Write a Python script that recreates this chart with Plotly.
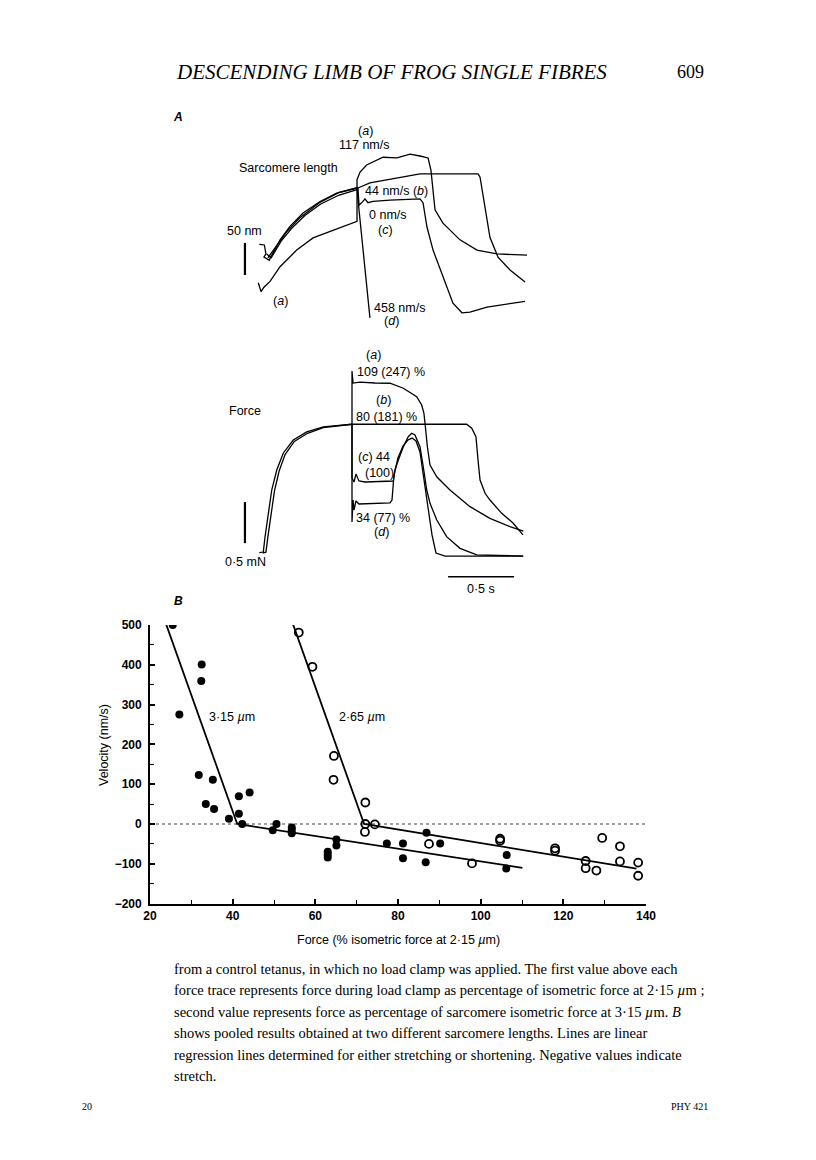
import plotly.graph_objects as go

# page geometry: the browser body has an 8px margin, so the figure is 16px smaller than the page
PAGE_W, PAGE_H = 816, 1160
OFF = 8
W, H = PAGE_W - 2 * OFF, PAGE_H - 2 * OFF
SANS = "Liberation Sans, Arial, sans-serif"
SERIF = "Liberation Serif, Times New Roman, serif"

def fx(px):
    return (px - OFF) / W

def fy(py):
    return 1 - (py - OFF) / H

# ---------------- Panel B data ----------------
f315_x = [25.5, 32.5, 32.4, 27.1, 31.8, 35.2, 33.5, 35.5, 39.1, 41.5, 44.1, 41.5, 42.3,
          49.7, 50.6, 54.3, 54.3, 54.3, 63.0, 63.0, 63.0, 65.1, 65.1, 77.3, 81.2, 81.2,
          86.9, 86.7, 90.2, 106.3, 106.2]
f315_y = [500, 401, 359, 275, 123, 111, 50, 38, 13, 70, 79, 26, 0,
          -16, 0, -9, -15, -23, -70, -77, -84, -39, -54, -49, -49, -86,
          -22, -96, -49, -78, -112]
o265_x = [56.0, 59.3, 64.5, 64.4, 72.1, 72.1, 72.0, 74.4, 87.5, 97.9, 104.7, 104.7,
          118.0, 118.0, 125.4, 125.4, 128.0, 129.4, 133.7, 133.7, 138.1, 138.1]
o265_y = [481, 395, 171, 111, 54, 0, -20, -1, -50, -99, -37, -42,
          -61, -67, -93, -111, -117, -35, -56, -94, -97, -130]
reg315_x = [23.9, 41.1, 110.1]
reg315_y = [502, 0, -110]
reg265_x = [54.6, 71.8, 137.7]
reg265_y = [502, 0, -112]
zero_x = [20, 141]
zero_y = [0, 0]
xticks = [20, 40, 60, 80, 100, 120, 140]
yticks = [-200, -100, 0, 100, 200, 300, 400, 500]

# ---------------- Panel A data (time in s, sarcomere length in nm, force in mN) ----------------
sl_bundle1_t = [-0.005, 0.033, 0.045, 0.03, 0.07, 0.076, 0.152, 0.227, 0.326, 0.455, 0.581, 0.742]
sl_bundle1_L = [87, 86, 72, 67, 62, 65, 94, 115, 136, 154, 167, 175]
sl_bundle2_t = [0.05, 0.085, 0.16, 0.24, 0.34, 0.46, 0.6, 0.742]
sl_bundle2_L = [72, 66, 92, 112, 132, 150, 164, 173]
sl_bundle3_t = [0.06, 0.12, 0.2, 0.3, 0.45, 0.6, 0.742]
sl_bundle3_L = [66, 84, 106, 128, 152, 168, 176]
sl_a_t = [-0.013, 0.008, 0.03, 0.076, 0.152, 0.278, 0.402, 0.530, 0.644, 0.720, 0.735, 0.735,
          0.758, 0.808, 0.932, 1.038, 1.136, 1.212, 1.273, 1.295, 1.326, 1.386, 1.515, 1.644,
          1.795, 2.023]
sl_a_L = [27, 13, 20, 29, 52, 78, 97, 107, 117, 122, 123, 188,
          200, 211, 223, 222, 228, 225, 222, 203, 141, 120, 94, 78,
          72, 70]
sl_b_t = [0.742, 0.833, 1.212, 1.652, 1.667, 1.705, 1.742, 1.803, 1.894, 2.008]
sl_b_L = [175, 183, 197, 197, 192, 141, 98, 67, 47, 28]
sl_c_t = [0.742, 0.75, 0.780, 0.795, 0.818, 0.856, 0.985, 1.212, 1.235, 1.265, 1.311, 1.386,
          1.462, 1.530, 1.591, 1.720, 1.894, 2.008]
sl_c_L = [175, 148, 154, 158, 152, 154, 156, 158, 152, 114, 78, 36,
          -5, -20, -19, -11, -6, -2]
sl_d_t = [0.735, 0.750, 0.833]
sl_d_L = [175, 141, -28]

fr_rise1_t = [-0.005, 0.025, 0.038, 0.063, 0.089, 0.127, 0.177, 0.252, 0.354, 0.48, 0.697]
fr_rise1_F = [0.004, 0.012, 0.195, 0.488, 0.768, 1.012, 1.22, 1.378, 1.476, 1.537, 1.57]
fr_rise2_t = [0.02, 0.045, 0.06, 0.085, 0.11, 0.145, 0.19, 0.26, 0.36, 0.48, 0.697]
fr_rise2_F = [0.0, 0.01, 0.2, 0.49, 0.76, 1.0, 1.2, 1.36, 1.46, 1.53, 1.57]
fr_a_t = [0.697, 0.697, 0.705, 0.758, 0.871, 0.985, 1.086, 1.187, 1.225, 1.242, 1.25, 1.268,
          1.288, 1.339, 1.439, 1.591, 1.742, 1.894, 1.995]
fr_a_F = [1.57, 2.22, 2.073, 2.085, 2.073, 2.07, 2.009, 1.906, 1.805, 1.704, 1.582, 1.296,
          1.073, 0.93, 0.768, 0.565, 0.423, 0.321, 0.268]
fr_b_t = [0.697, 1.566, 1.604, 1.636, 1.654, 1.667, 1.705, 1.742, 1.831, 1.917, 1.992]
fr_b_F = [1.57, 1.57, 1.521, 1.418, 1.094, 0.89, 0.728, 0.646, 0.484, 0.366, 0.22]
fr_c_t = [0.697, 0.697, 0.712, 0.727, 0.750, 0.795, 1.010, 1.023, 1.048, 1.086, 1.123, 1.149,
          1.174, 1.212, 1.237, 1.263, 1.288, 1.339, 1.414, 1.515, 1.642, 1.995]
fr_c_F = [1.57, 0.915, 0.866, 0.963, 0.878, 0.866, 0.878, 1.012, 1.134, 1.296, 1.418, 1.46,
          1.439, 1.296, 1.052, 0.768, 0.606, 0.402, 0.199, 0.057, -0.024, -0.037]
fr_d_t = [0.697, 0.697, 0.705, 0.712, 0.727, 0.750, 0.985, 1.0, 1.015, 1.045, 1.083, 1.121,
          1.152, 1.182, 1.212, 1.242, 1.273, 1.303, 1.333, 1.402, 1.992]
fr_d_F = [1.57, 0.378, 0.646, 0.524, 0.634, 0.598, 0.61, 0.646, 0.951, 1.159, 1.305, 1.378,
          1.402, 1.366, 1.232, 0.89, 0.524, 0.22, 0.0, -0.037, -0.037]

# scale bars (physical units)
bar_nm_t, bar_nm_L = -0.114, [39, 89]
bar_mN_t, bar_mN_F = -0.114, [0.12, 0.62]
bar_s_t, bar_s_F = [1.425, 1.925], -0.289

# ---------------- figure ----------------
fig = go.Figure()

def line(x, y, xa, ya, width=1.3, color="black", dash=None):
    fig.add_trace(go.Scatter(x=x, y=y, xaxis=xa, yaxis=ya, mode="lines",
                             line=dict(color=color, width=width, dash=dash),
                             hoverinfo="skip", showlegend=False))

# panel B
line(zero_x, zero_y, "x", "y", width=1.1, color="#444444", dash="dot")
line(reg315_x, reg315_y, "x", "y", width=1.8)
line(reg265_x, reg265_y, "x", "y", width=1.8)
fig.add_trace(go.Scatter(x=f315_x, y=f315_y, mode="markers", xaxis="x", yaxis="y",
                         marker=dict(symbol="circle", size=8, color="black"),
                         name="3·15 µm", showlegend=False))
fig.add_trace(go.Scatter(x=o265_x, y=o265_y, mode="markers", xaxis="x", yaxis="y",
                         marker=dict(symbol="circle-open", size=8, color="black",
                                     line=dict(width=1.8, color="black")),
                         name="2·65 µm", showlegend=False))

# panel A sarcomere
for tt, LL in [(sl_bundle1_t, sl_bundle1_L), (sl_bundle2_t, sl_bundle2_L),
               (sl_bundle3_t, sl_bundle3_L), (sl_a_t, sl_a_L), (sl_b_t, sl_b_L),
               (sl_c_t, sl_c_L), (sl_d_t, sl_d_L)]:
    line(tt, LL, "x2", "y2")
# panel A force
for tt, FF in [(fr_rise1_t, fr_rise1_F), (fr_rise2_t, fr_rise2_F), (fr_a_t, fr_a_F),
               (fr_b_t, fr_b_F), (fr_c_t, fr_c_F), (fr_d_t, fr_d_F)]:
    line(tt, FF, "x3", "y3")

# scale bars
line([bar_nm_t, bar_nm_t], bar_nm_L, "x2", "y2", width=2.2)
line([bar_mN_t, bar_mN_t], bar_mN_F, "x3", "y3", width=2.2)
line(bar_s_t, [bar_s_F, bar_s_F], "x3", "y3", width=1.6)

tickfont = dict(family=SANS, size=12, color="black", weight="bold")
fig.update_layout(
    width=W, height=H, autosize=False,
    margin=dict(l=0, r=0, t=0, b=0, autoexpand=False),
    paper_bgcolor="white", plot_bgcolor="rgba(0,0,0,0)", showlegend=False,
    xaxis=dict(domain=[fx(150), fx(646)], range=[20, 140], anchor="y", automargin=False,
               tickvals=xticks, ticks="inside", ticklen=5, tickwidth=1.5, tickcolor="black",
               minor=dict(dtick=10, tick0=20, ticks="inside", ticklen=4, tickwidth=1.3,
                          tickcolor="black", showgrid=False),
               showline=True, linecolor="black", linewidth=1.8, showgrid=False,
               zeroline=False, tickfont=tickfont, fixedrange=True),
    yaxis=dict(domain=[fy(903.6), fy(625)], range=[-200, 500], anchor="x", automargin=False,
               tickvals=yticks, ticks="inside", ticklen=5, tickwidth=1.5, tickcolor="black",
               minor=dict(dtick=50, tick0=0, ticks="inside", ticklen=4, tickwidth=1.3,
                          tickcolor="black", showgrid=False),
               showline=True, linecolor="black", linewidth=1.8, showgrid=False,
               zeroline=False, tickfont=tickfont, ticklabelstandoff=4, fixedrange=True),
    xaxis2=dict(domain=[fx(200), fx(560)], range=[-0.4545, 2.2727], anchor="y2", visible=False),
    yaxis2=dict(domain=[fy(330), fy(120)], range=[-46.875, 281.25], anchor="x2", visible=False),
    xaxis3=dict(domain=[fx(200), fx(560)], range=[-0.4545, 2.2727], anchor="y3", visible=False),
    yaxis3=dict(domain=[fy(590), fy(340)], range=[-0.4512, 2.5976], anchor="x3", visible=False),
)

anns = []
def ann(text, px, py, size=12.5, xanchor="center", family=SANS, color="black", angle=0, weight="normal"):
    anns.append(dict(text=text, x=fx(px), y=fy(py), xref="paper", yref="paper",
                     xanchor=xanchor, yanchor="middle", showarrow=False, textangle=angle,
                     font=dict(size=size, family=family, color=color, weight=weight)))

# page header
ann("<i>DESCENDING LIMB OF FROG SINGLE FIBRES</i>", 391, 72, size=21, family=SERIF)
ann("609", 690, 72, size=18, family=SERIF)
ann("<i><b>A</b></i>", 178, 117, size=12)
ann("<i><b>B</b></i>", 178, 601, size=12)

# panel A sarcomere labels
ann("(<i>a</i>)", 365, 131)
ann("117 nm/s", 364, 145)
ann("Sarcomere length", 288, 168)
ann("44 nm/s (<i>b</i>)", 363, 191, xanchor="left")
ann("0 nm/s", 367, 215, xanchor="left")
ann("(<i>c</i>)", 385, 230)
ann("50 nm", 244, 231)
ann("(<i>a</i>)", 271, 301, xanchor="left")
ann("458 nm/s", 372, 308, xanchor="left")
ann("(<i>d</i>)", 391, 321)
# panel A force labels
ann("(<i>a</i>)", 373, 355)
ann("109 (247) %", 355, 372, xanchor="left")
ann("(<i>b</i>)", 383, 400)
ann("80 (181) %", 354, 417, xanchor="left")
ann("Force", 245, 411)
ann("(<i>c</i>) 44", 356, 457, xanchor="left")
ann("(100)", 363, 473, xanchor="left")
ann("34 (77) %", 354, 518, xanchor="left")
ann("(<i>d</i>)", 381, 532)
ann("0·5 mN", 245, 562)
ann("0·5 s", 481, 589)

# panel B labels
ann("3·15 <i>µ</i>m", 207, 717, xanchor="left")
ann("2·65 <i>µ</i>m", 337, 717, xanchor="left")
ann("Velocity (nm/s)", 104, 745, angle=-90, size=12.5)
ann("Force (% isometric force at 2·15 <i>µ</i>m)", 398, 940, size=12.5)

# caption
caption = [
    "from a control tetanus, in which no load clamp was applied. The first value above each",
    "force trace represents force during load clamp as percentage of isometric force at 2·15 <i>µ</i>m ;",
    "second value represents force as percentage of sarcomere isometric force at 3·15 <i>µ</i>m. <i>B</i>",
    "shows pooled results obtained at two different sarcomere lengths. Lines are linear",
    "regression lines determined for either stretching or shortening. Negative values indicate",
    "stretch.",
]
for i, txt in enumerate(caption):
    ann(txt, 172, 969 + i * 21.4, size=14.5, xanchor="left", family=SERIF)
ann("20", 80, 1106, size=10, family=SERIF, xanchor="left")
ann("PHY 421", 710, 1106, size=10, family=SERIF, xanchor="right")

fig.update_layout(annotations=anns)
fig.write_html("out.html")
